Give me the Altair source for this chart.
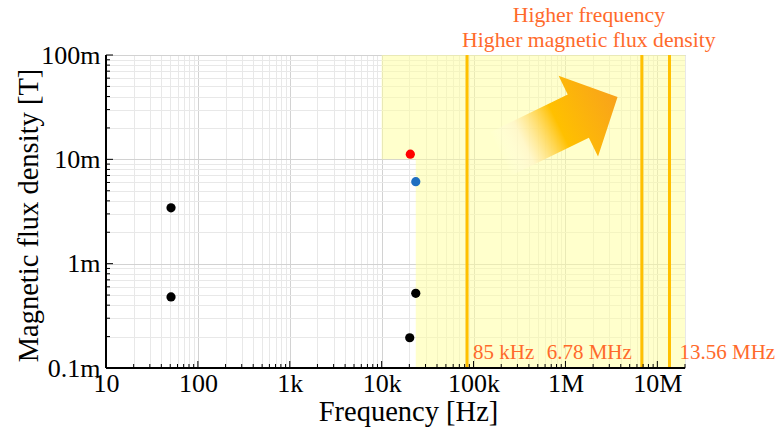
import altair as alt
import pandas as pd

# ---------------- data ----------------
pt_freq = [51, 51, 20500, 23500, 23500, 20200]
pt_flux = [3.43e-3, 0.48e-3, 11.2e-3, 6.1e-3, 0.52e-3, 0.195e-3]
pt_color = ["#000000", "#000000", "#FF0000", "#1F6FC0", "#000000", "#000000"]

line_freq = [85e3, 6.78e6, 13.56e6]
line_label = ["85 kHz", "6.78 MHz", "13.56 MHz"]

x_major = [10, 100, 1e3, 1e4, 1e5, 1e6, 1e7]
x_major_labels = ["10", "100", "1k", "10k", "100k", "1M", "10M"]
y_major = [1e-4, 1e-3, 1e-2, 1e-1]
y_major_labels = ["0.1m", "1m", "10m", "100m"]

X_MIN, X_MAX = 10, 2e7
Y_MIN, Y_MAX = 1e-4, 1e-1

shade_x1 = [1e4, 23.5e3]
shade_y1 = [1e-2, 1e-4]
shade_y2 = [1e-1, 1e-2]

top_lines = ["Higher frequency", "Higher magnetic flux density"]
top_freq = [1.8e6, 1.8e6]
top_flux = [0.244, 0.139]

arrow_freq = [8.5e5]
arrow_flux = [0.0211]

label_flux = 1.39e-4

x_ticks = [k * 10 ** e for e in range(1, 8) for k in range(1, 10) if k * 10 ** e <= X_MAX]
y_ticks = [round(k * 10.0 ** e, 8) for e in range(-4, -1) for k in range(1, 10)] + [1e-1]

# ---------------- styling ----------------
FONT = "Times New Roman, Liberation Serif, serif"
ORANGE_TXT = "#FF6A2B"
ORANGE_LINE = "#FFC000"

major_test = "abs(log(datum.value)/LN10 - round(log(datum.value)/LN10)) < 0.001"


def label_expr(vals, labels):
    parts = [f"abs(datum.value/{v!r} - 1) < 1e-6 ? '{l}'" for v, l in zip(vals, labels)]
    return " : ".join(parts) + " : ''"


grid_color = {"condition": {"test": major_test, "value": "#d2d2d2"}, "value": "#e8e8e8"}

xscale = alt.Scale(type="log", domain=[X_MIN, X_MAX], nice=False)
yscale = alt.Scale(type="log", domain=[Y_MIN, Y_MAX], nice=False)

xaxis = alt.Axis(
    values=x_ticks, labelExpr=label_expr(x_major, x_major_labels), labelOverlap=False,
    labelFlush=False, title="Frequency [Hz]", grid=True, gridColor=grid_color, gridWidth=1,
    domain=False, ticks=False, labelFont=FONT, labelFontSize=26, labelColor="#000000",
    labelPadding=2, titleFont=FONT, titleFontSize=28.5, titleFontWeight="normal",
    titleColor="#000000", titleX=302, titleY=52, titleAlign="center",
    titleBaseline="alphabetic",
)
yaxis = alt.Axis(
    values=y_ticks, labelExpr=label_expr(y_major, y_major_labels), labelOverlap=False,
    labelFlush=False, title="Magnetic flux density [T]", grid=True, gridColor=grid_color,
    gridWidth=1, domain=False, ticks=False, labelFont=FONT, labelFontSize=26,
    labelColor="#000000", labelPadding=6, titleFont=FONT, titleFontSize=28.5,
    titleFontWeight="normal", titleColor="#000000", titleAngle=270, titleX=-78,
    titleY=160, titleAlign="center", titleBaseline="middle",
)


def X(field):
    return alt.X(field, type="quantitative", scale=xscale, axis=xaxis)


def Y(field):
    return alt.Y(field, type="quantitative", scale=yscale, axis=yaxis)


# ---------------- tables ----------------
df_shade = pd.DataFrame({"x1": shade_x1, "x2": [X_MAX] * len(shade_x1), "y1": shade_y1, "y2": shade_y2})
df_lines = pd.DataFrame({"f": line_freq, "lab": line_label, "ylo": [Y_MIN] * 3, "yhi": [Y_MAX] * 3,
                         "yl": [label_flux] * 3})
df_pts = pd.DataFrame({"f": pt_freq, "b": pt_flux, "c": pt_color})
df_top = pd.DataFrame({"f": top_freq, "b": top_flux, "t": top_lines})
df_arrow = pd.DataFrame({"f": arrow_freq, "b": arrow_flux})
df_xt = pd.DataFrame({"v": x_ticks, "b": [Y_MIN] * len(x_ticks)})
df_xt["major"] = [any(abs(v / m - 1) < 1e-6 for m in x_major) for v in x_ticks]
df_yt = pd.DataFrame({"v": y_ticks, "f": [X_MIN] * len(y_ticks)})
df_yt["major"] = [any(abs(v / m - 1) < 1e-6 for m in y_major) for v in y_ticks]
df_dom = pd.DataFrame({"x1": [X_MIN], "x2": [X_MAX], "y1": [Y_MIN], "y2": [Y_MAX]})

# ---------------- layers ----------------
shade = alt.Chart(df_shade).mark_rect(fill="#FFFF99", opacity=0.5).encode(
    x=X("x1"), x2="x2", y=Y("y1"), y2="y2")

vlines = alt.Chart(df_lines).mark_rule(color=ORANGE_LINE, strokeWidth=3).encode(
    x=X("f"), y=Y("ylo"), y2="yhi")

arrow_path = "M -1 -0.37 L 0.33 -0.37 L 0.33 -0.69 L 1 0 L 0.33 0.69 L 0.33 0.37 L -1 0.37 Z"
gradient = alt.LinearGradient(
    gradient="linear", x1=0, y1=0, x2=1, y2=0,
    stops=[alt.GradientStop(offset=0, color="rgba(255,255,240,0)"),
           alt.GradientStop(offset=0.2, color="rgba(255,244,200,0.7)"),
           alt.GradientStop(offset=0.5, color="#FFC000"),
           alt.GradientStop(offset=1, color="#F8A21C")])
arrow = alt.Chart(df_arrow).mark_point(
    shape=arrow_path, size=17000, angle=334, filled=True, fill=gradient,
    strokeWidth=0, opacity=1).encode(x=X("f"), y=Y("b"))

points = alt.Chart(df_pts).mark_circle(size=85, opacity=1).encode(
    x=X("f"), y=Y("b"), color=alt.Color("c", scale=None))

txt_kw = dict(font=FONT, fontSize=21, color=ORANGE_TXT, baseline="middle")
lab85 = alt.Chart(df_lines).transform_filter(alt.datum.lab == line_label[0]).mark_text(
    align="left", dx=6, **txt_kw).encode(x=X("f"), y=Y("yl"), text="lab")
lab678 = alt.Chart(df_lines).transform_filter(alt.datum.lab == line_label[1]).mark_text(
    align="right", dx=-10, **txt_kw).encode(x=X("f"), y=Y("yl"), text="lab")
lab1356 = alt.Chart(df_lines).transform_filter(alt.datum.lab == line_label[2]).mark_text(
    align="left", dx=10, **txt_kw).encode(x=X("f"), y=Y("yl"), text="lab")

top = alt.Chart(df_top).mark_text(
    align="center", font=FONT, fontSize=21.7, color=ORANGE_TXT, baseline="middle").encode(
    x=X("f"), y=Y("b"), text="t")

xt_major = alt.Chart(df_xt).transform_filter("datum.major").mark_rule(
    color="#000000", strokeWidth=1, y2Offset=-7).encode(x=X("v"), y=Y("b"), y2="b")
xt_minor = alt.Chart(df_xt).transform_filter("!datum.major").mark_rule(
    color="#000000", strokeWidth=1, y2Offset=-4).encode(x=X("v"), y=Y("b"), y2="b")
yt_major = alt.Chart(df_yt).transform_filter("datum.major").mark_rule(
    color="#000000", strokeWidth=1, x2Offset=7).encode(y=Y("v"), x=X("f"), x2="f")
yt_minor = alt.Chart(df_yt).transform_filter("!datum.major").mark_rule(
    color="#000000", strokeWidth=1, x2Offset=4).encode(y=Y("v"), x=X("f"), x2="f")

dom_x = alt.Chart(df_dom).mark_rule(color="#000000", strokeWidth=2).encode(
    x=X("x1"), x2="x2", y=Y("y1"))
dom_y = alt.Chart(df_dom).mark_rule(color="#000000", strokeWidth=2).encode(
    x=X("x1"), y=Y("y1"), y2="y2")

chart = alt.layer(
    shade, vlines, arrow, points, lab85, lab678, lab1356, top,
    xt_major, xt_minor, yt_major, yt_minor, dom_x, dom_y,
).properties(
    width=579, height=313,
    autosize=alt.AutoSizeParams(type="none"),
    padding={"left": 106, "top": 55, "right": 92, "bottom": 64},
).configure_view(stroke=None).configure(background="#FFFFFF")

chart.save("out.html", embed_options={"renderer": "svg", "actions": False})
